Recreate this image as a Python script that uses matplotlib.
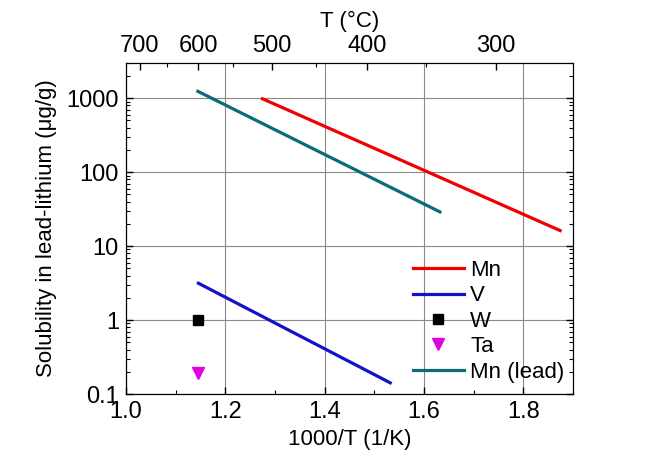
import numpy as np
import matplotlib
matplotlib.use("Agg")
import matplotlib.pyplot as plt
from matplotlib.ticker import FixedLocator, LogLocator, NullFormatter, MultipleLocator

plt.rcParams["font.family"] = ["Liberation Sans", "DejaVu Sans"]
plt.rcParams["font.size"] = 16

# ---- data ----
mn_x = [1.275, 1.874]
mn_y = [980, 16.2]
mn_lead_x = [1.145, 1.632]
mn_lead_y = [1235, 29]
v_x = [1.146, 1.532]
v_y = [3.15, 0.142]
w_x = [1.146]
w_y = [1.0]
ta_x = [1.146]
ta_y = [0.19]

top_major_c = [700, 600, 500, 400, 300]
top_minor_c = [650, 550, 450, 350, 250]

fig = plt.figure(figsize=(6.52, 4.62), dpi=100)
ax = fig.add_axes([0.193, 0.147, 0.686, 0.717])

ax.plot(mn_x, mn_y, color="#F00000", lw=2.3, label="Mn", zorder=3)
ax.plot(v_x, v_y, color="#1212C8", lw=2.3, label="V", zorder=3)
ax.plot(w_x, w_y, "s", color="black", ms=7, label="W", zorder=3)
ax.plot(ta_x, ta_y, "v", color="#E000E0", ms=8, label="Ta", zorder=3)
ax.plot(mn_lead_x, mn_lead_y, color="#0B6B78", lw=2.3, label="Mn (lead)", zorder=3)

ax.set_yscale("log")
ax.set_xlim(1.0, 1.9)
ax.set_ylim(0.1, 3000)
ax.xaxis.set_major_locator(FixedLocator([1.0, 1.2, 1.4, 1.6, 1.8]))
ax.xaxis.set_minor_locator(MultipleLocator(0.1))
ax.set_xticklabels(["1.0", "1.2", "1.4", "1.6", "1.8"])
ax.yaxis.set_major_locator(FixedLocator([0.1, 1, 10, 100, 1000]))
ax.set_yticklabels(["0.1", "1", "10", "100", "1000"])
ax.yaxis.set_minor_locator(LogLocator(base=10, subs=np.arange(2, 10)))
ax.yaxis.set_minor_formatter(NullFormatter())

ax.tick_params(which="both", direction="in", right=True, top=False, labelsize=17)
ax.tick_params(which="major", length=5, width=1)
ax.tick_params(axis="x", which="major", pad=5)
ax.tick_params(axis="y", which="major", pad=5)
ax.tick_params(which="minor", length=3, width=0.8)
ax.grid(True, which="major", color="#8a8a8a", lw=0.8)

ax.set_xlabel("1000/T (1/K)", labelpad=4)
ax.set_ylabel("Solubility in lead-lithium (\u03bcg/g)", labelpad=7)

# top axis in degrees Celsius
top = ax.twiny()
top.set_xlim(ax.get_xlim())
top.xaxis.set_major_locator(FixedLocator([1000 / (t + 273.15) for t in top_major_c]))
top.xaxis.set_minor_locator(FixedLocator([1000 / (t + 273.15) for t in top_minor_c]))
top.set_xticklabels([str(t) for t in top_major_c])
top.tick_params(which="both", direction="in", labelsize=17)
top.tick_params(which="major", length=5, width=1, pad=4)
top.tick_params(which="minor", length=3, width=0.8)
top.set_xlabel("T (\u00b0C)", labelpad=6)

ax.legend(loc="upper left", bbox_to_anchor=(0.641, 0.405), frameon=False,
          handlelength=2.3, handletextpad=0.3, labelspacing=0.2,
          borderpad=0, borderaxespad=0, fontsize=16)

fig.savefig("out.png", dpi=100)
